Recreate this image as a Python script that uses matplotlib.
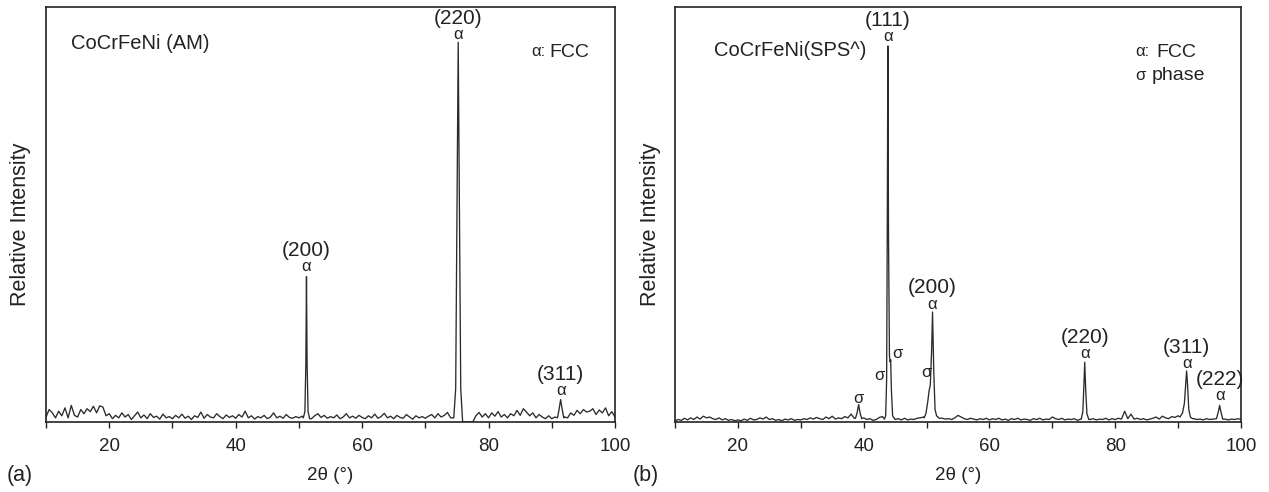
import numpy as np
import matplotlib
matplotlib.use("Agg")
import matplotlib.pyplot as plt
from matplotlib.ticker import MultipleLocator

plt.rcParams['font.family'] = ['Liberation Sans', 'DejaVu Sans']

# 2-theta scan grid of the background (degrees)
two_theta_grid = np.linspace(10.0, 100.0, 181)

# ---------------- (a) CoCrFeNi, as-melted ----------------
am_background = [
    1.2, 3.0, 2.2, 1.0, 2.6, 1.5, 3.4, 1.0, 4.0, 1.6, 1.2, 3.0, 2.0, 3.2, 2.5, 3.8, 2.2, 3.9, 3.6, 1.5,
    2.0, 0.8, 1.6, 1.0, 2.2, 1.2, 1.8, 0.6, 1.5, 2.4, 1.0, 1.7, 0.8, 2.0, 1.1, 1.4, 0.7, 1.9, 1.0, 1.3,
    0.8, 1.6, 1.0, 1.9, 0.9, 1.4, 0.6, 1.5, 1.1, 2.4, 0.9, 1.8, 1.2, 1.0, 2.0, 1.3, 0.8, 1.7, 1.1, 1.5,
    0.9, 1.8, 1.2, 2.6, 1.0, 1.5, 0.7, 1.3, 1.0, 1.6, 0.8, 1.2, 2.2, 1.0, 1.4, 0.9, 1.8, 1.1, 0.9, 1.3,
    1.0, 1.4, 0.9, 1.2, 0.8, 1.5, 2.0, 1.1, 1.6, 0.9, 1.3, 1.0, 1.7, 0.8, 1.2, 2.0, 1.0, 1.4, 0.9, 1.6,
    1.1, 0.8, 1.5, 1.0, 1.9, 0.9, 1.3, 2.1, 1.0, 1.4, 0.8, 1.6, 1.1, 0.9, 1.8, 1.2, 0.7, 1.5, 1.0, 1.3,
    0.9, 1.4, 1.8, 1.0, 2.0, 1.2, 1.6, 2.3, 1.0, 0.0, 0.0, 0.0, 0.0, 0.0, 0.0, 0.0, 1.5, 2.3, 1.2, 2.0,
    1.0, 2.2, 1.4, 2.5, 1.2, 1.8, 1.0, 2.0, 1.5, 2.8, 1.6, 3.2, 2.4, 1.5, 2.2, 1.0, 1.8, 1.2, 0.8, 1.5,
    0.8, 1.2, 1.5, 2.0, 1.2, 1.0, 2.2, 1.6, 2.8, 2.0, 3.0, 2.4, 2.6, 3.2, 1.8, 2.9, 2.2, 3.4, 1.5, 2.5,
    1.2,
]
am_200_x = [50.7, 50.95, 51.1, 51.2, 51.3, 51.45, 51.7]
am_200_y = [1.0, 2.5, 14.0, 35.0, 14.0, 2.5, 0.8]
am_220_x = [74.5, 74.8, 75.0, 75.2, 75.4, 75.6, 75.9]
am_220_y = [1.0, 8.0, 50.0, 91.5, 50.0, 8.0, 0.0]
am_311_x = [90.9, 91.15, 91.4, 91.65, 91.9]
am_311_y = [1.0, 3.0, 5.4, 3.0, 1.0]

am_hkl = ['(200)', '(220)', '(311)']
am_hkl_x = [51.2, 75.2, 91.4]
am_alpha_y = [37.4, 93.4, 7.6]

# ---------------- (b) CoCrFeNi, spark plasma sintered ----------------
sps_background = [
    0.3, 0.6, 0.4, 0.9, 0.5, 1.0, 0.6, 1.2, 0.7, 1.4, 1.0, 1.2, 0.8, 0.6, 1.0, 0.5, 0.8, 0.4, 0.6, 0.3,
    0.5, 0.3, 0.7, 0.4, 0.9, 0.5, 0.6, 1.0, 0.7, 1.2, 0.6, 0.8, 0.4, 0.6, 0.3, 0.7, 0.5, 0.8, 0.4, 0.6,
    0.5, 0.8, 0.6, 1.0, 0.7, 1.1, 0.8, 0.6, 1.2, 0.8, 1.4, 0.7, 1.0, 0.8, 1.3, 1.0, 1.9, 0.9, 1.2, 0.9,
    1.0, 0.6, 0.8, 0.4, 0.6, 1.1, 1.3, 0.8, 0.6, 0.7, 0.6, 0.8, 0.5, 0.9, 0.5, 0.7, 0.6, 0.9, 1.0, 1.2,
    1.0, 1.2, 1.0, 1.0, 1.0, 0.9, 0.7, 0.8, 0.6, 1.0, 1.6, 1.2, 0.8, 0.6, 0.9, 0.7, 0.5, 0.8, 0.6, 0.9,
    0.5, 0.8, 0.6, 0.9, 0.5, 0.7, 0.4, 0.8, 0.6, 0.9, 0.5, 0.7, 0.6, 0.4, 0.8, 0.6, 0.9, 0.5, 0.7, 0.6,
    1.2, 0.8, 0.6, 0.9, 0.5, 0.7, 0.6, 0.8, 0.4, 0.7, 0.6, 0.6, 0.6, 0.8, 0.5, 0.7, 0.6, 0.9, 0.5, 0.8,
    0.6, 0.9, 0.7, 2.6, 0.8, 1.9, 0.7, 0.9, 0.6, 0.8, 0.5, 0.7, 0.9, 1.2, 0.7, 1.4, 1.0, 0.8, 1.3, 1.1,
    1.5, 1.2, 1.0, 1.0, 1.0, 0.8, 0.6, 0.7, 0.5, 0.8, 0.6, 0.7, 0.8, 0.8, 0.8, 0.7, 0.5, 0.7, 0.6, 0.8,
    0.6,
]
sps_s39_x = [38.7, 38.95, 39.2, 39.45, 39.7]
sps_s39_y = [0.9, 2.2, 4.2, 2.0, 0.8]
sps_111_x = [43.3, 43.5, 43.65, 43.75, 43.85, 43.95, 44.1, 44.2, 44.3, 44.4, 44.6, 44.9]
sps_111_y = [0.7, 1.5, 10.0, 45.0, 90.6, 45.0, 16.0, 14.5, 15.0, 8.0, 1.5, 0.8]
sps_200_x = [49.6, 49.9, 50.2, 50.4, 50.6, 50.8, 50.95, 51.15, 51.35, 51.6, 52.0]
sps_200_y = [1.0, 2.0, 5.0, 7.5, 9.0, 17.0, 26.5, 12.0, 3.0, 1.5, 0.9]
sps_220_x = [74.6, 74.85, 75.0, 75.15, 75.3, 75.5, 75.8]
sps_220_y = [0.7, 2.5, 8.0, 14.4, 8.0, 2.0, 0.6]
sps_311_x = [90.3, 90.7, 91.0, 91.2, 91.35, 91.5, 91.7, 91.95, 92.3]
sps_311_y = [1.2, 2.2, 4.5, 9.0, 12.3, 9.0, 3.0, 1.2, 0.8]
sps_222_x = [96.1, 96.4, 96.6, 96.8, 97.1]
sps_222_y = [0.8, 2.5, 4.0, 2.5, 0.7]

sps_hkl = ['(111)', '(200)', '(220)', '(311)', '(222)']
sps_hkl_x = [43.85, 50.95, 75.15, 91.35, 96.6]
sps_alpha_y = [92.8, 28.4, 16.5, 14.0, 6.3]
sps_sigma_x = [39.2, 42.5, 45.4, 50.0]
sps_sigma_y = [5.6, 11.1, 16.6, 11.9]


def build_trace(background, peaks):
    """Merge a scan background with the sampled peak profiles."""
    xs = list(two_theta_grid)
    ys = list(background)
    for px, py in peaks:
        lo, hi = min(px), max(px)
        kept = [(a, b) for a, b in zip(xs, ys) if not (lo <= a <= hi)]
        xs = [a for a, _ in kept] + list(px)
        ys = [b for _, b in kept] + list(py)
    order = np.argsort(xs, kind='stable')
    return np.asarray(xs)[order], np.asarray(ys)[order]


am_x, am_y = build_trace(am_background, [(am_200_x, am_200_y),
                                         (am_220_x, am_220_y),
                                         (am_311_x, am_311_y)])
sps_x, sps_y = build_trace(sps_background, [(sps_s39_x, sps_s39_y),
                                            (sps_111_x, sps_111_y),
                                            (sps_200_x, sps_200_y),
                                            (sps_220_x, sps_220_y),
                                            (sps_311_x, sps_311_y),
                                            (sps_222_x, sps_222_y)])

W, H = 1269, 492
fig = plt.figure(figsize=(W / 100, H / 100), dpi=100)
ax_bottom = (H - 422) / H
ax_height = 415 / H
ax_a = fig.add_axes([46 / W, ax_bottom, 569 / W, ax_height])
ax_b = fig.add_axes([675 / W, ax_bottom, 566 / W, ax_height])

ink = '#222222'
line_color = '#2b2b2b'
for ax, x, y in ((ax_a, am_x, am_y), (ax_b, sps_x, sps_y)):
    ax.plot(x, y, color=line_color, lw=0.95)
    ax.set_xlim(10, 100)
    ax.set_ylim(0, 100)
    ax.xaxis.set_major_locator(MultipleLocator(20))
    ax.xaxis.set_minor_locator(MultipleLocator(10))
    ax.tick_params(axis='x', which='both', direction='out', length=4, width=1.0,
                   labelsize=13.5, pad=7.5, colors=ink, top=False)
    ax.tick_params(axis='y', left=False, labelleft=False, right=False)
    for sp in ax.spines.values():
        sp.set_linewidth(1.2)
        sp.set_color(ink)
    ax.set_xlabel('2θ (°)', fontsize=13.5, color=ink)
    ax.xaxis.set_label_coords(0.5, -0.108)
    ax.set_ylabel('Relative Intensity', fontsize=15.5, color=ink)

ax_a.yaxis.set_label_coords(-0.026, 0.477)
ax_b.yaxis.set_label_coords(-0.025, 0.477)

label_kw = dict(ha='center', va='center', color=ink)
left_kw = dict(ha='left', va='center', color=ink)

# (a) annotations
ax_a.text(14.0, 91.3, 'CoCrFeNi (AM)', fontsize=14.5, **left_kw)
ax_a.text(86.7, 89.3, 'α:', fontsize=12, **left_kw)
ax_a.text(89.6, 89.0, 'FCC', fontsize=14, **left_kw)
for hkl, hx, ay in zip(am_hkl, am_hkl_x, am_alpha_y):
    ax_a.text(hx, ay, 'α', fontsize=12, **label_kw)
    ax_a.text(hx, ay + 3.9, hkl, fontsize=15, **label_kw)

# (b) annotations
ax_b.text(16.2, 89.6, 'CoCrFeNi(SPS^)', fontsize=14.5, **left_kw)
ax_b.text(83.2, 89.2, 'α:', fontsize=12, **left_kw)
ax_b.text(86.5, 89.0, 'FCC', fontsize=14, **left_kw)
ax_b.text(83.2, 83.4, 'σ', fontsize=12, **left_kw)
ax_b.text(85.75, 83.4, 'phase', fontsize=14, **left_kw)
for hkl, hx, ay in zip(sps_hkl, sps_hkl_x, sps_alpha_y):
    ax_b.text(hx, ay, 'α', fontsize=12, **label_kw)
    ax_b.text(hx, ay + 3.9, hkl, fontsize=15, **label_kw)
for sx, sy in zip(sps_sigma_x, sps_sigma_y):
    ax_b.text(sx, sy, 'σ', fontsize=12, **label_kw)

fig.text(20 / W, (H - 475) / H, '(a)', fontsize=15.5, ha='center', va='center', color=ink)
fig.text(646 / W, (H - 475) / H, '(b)', fontsize=15.5, ha='center', va='center', color=ink)

fig.savefig('out.png', dpi=100)
